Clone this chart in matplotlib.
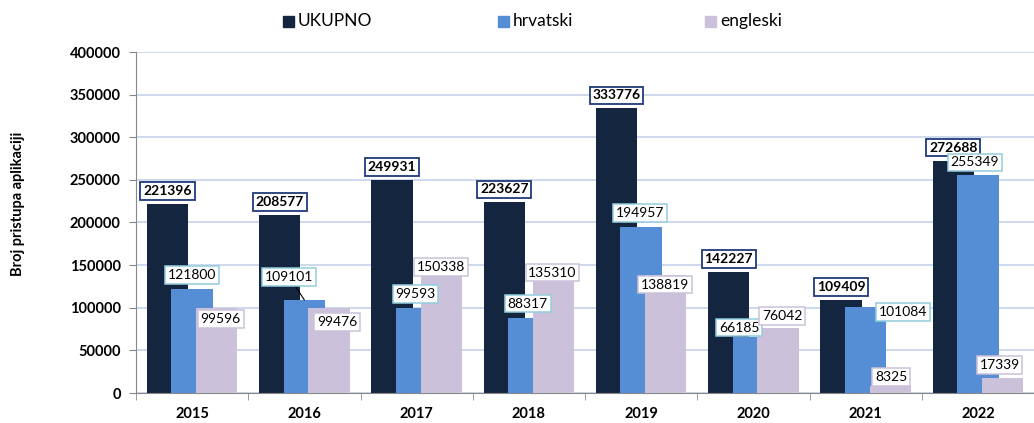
import matplotlib.pyplot as plt
from matplotlib.patches import Rectangle
import numpy as np

plt.rcParams['font.family'] = ['Lato', 'DejaVu Sans']

years = ['2015', '2016', '2017', '2018', '2019', '2020', '2021', '2022']
ukupno = [221396, 208577, 249931, 223627, 333776, 142227, 109409, 272688]
hrvatski = [121800, 109101, 99593, 88317, 194957, 66185, 101084, 255349]
engleski = [99596, 99476, 150338, 135310, 138819, 76042, 8325, 17339]
series_names = ['UKUPNO', 'hrvatski', 'engleski']

# label offsets in pixels (dx, dy up) relative to top-centre of bar
uk_off = [(0, 13)] * 8
hr_off = [(0, 14), (-15, 23), (-1, 14), (-1, 14), (-1, 14), (-14, 9), (37, -5), (-3, 13)]
en_off = [(4, -11), (8, -14), (0, -2), (-1, 5), (-1, -10), (4, 12), (1, 9), (-3, 13)]

colors = ['#14263F', '#558ED5', '#CCC1DA']
edge_cols = ['#1F3A78', '#92CDDC', '#CCC1DA']

fig = plt.figure(figsize=(10.34, 4.23), dpi=100)
ax = fig.add_axes([136/1034, 30/423, 898/1034, 341/423])

x = np.arange(len(years))
step = 25/114
width = 42/114
data = [ukupno, hrvatski, engleski]
offs = [uk_off, hr_off, en_off]

for k in range(3):
    xs = x + (k - 1) * step
    ax.bar(xs, data[k], width=width, color=colors[k], zorder=2 + k)

for k in range(3):
    xs = x + (k - 1) * step
    for i, v in enumerate(data[k]):
        dx, dy = offs[k][i]
        arrow = None
        if k == 1 and i == 1:
            arrow = dict(arrowstyle='-', color='black', lw=0.8, shrinkA=0, shrinkB=0)
        ax.annotate(str(v), xy=(xs[i], v), xytext=(dx, dy), textcoords='offset pixels',
                    ha='center', va='center', fontsize=10,
                    fontweight='bold' if k == 0 else 'normal', color='black',
                    bbox=dict(boxstyle='square,pad=0.2', fc='white', ec=edge_cols[k],
                              lw=1.3 if k == 0 else 1.1),
                    arrowprops=arrow, zorder=10 + k)

ax.set_ylim(0, 400000)
ax.set_xlim(-0.5, -0.5 + 898/114)
ax.set_yticks(np.arange(0, 400001, 50000))
ax.set_yticklabels([str(t) for t in range(0, 400001, 50000)], fontweight='bold', fontsize=10.5)
ax.yaxis.grid(True, color='#C9D6EC', lw=1.3)
ax.set_axisbelow(True)
ax.set_xticks(x)
ax.set_xticklabels(years, fontweight='bold', fontsize=10.5)
ax.set_xticks(np.arange(-0.5, 8, 1), minor=True)
ax.tick_params(axis='x', which='major', length=0, pad=10)
ax.tick_params(axis='x', which='minor', length=5, color='#888888')
ax.tick_params(axis='y', length=5, color='#888888', pad=6)
for s in ['top', 'right']:
    ax.spines[s].set_visible(False)
ax.spines['left'].set_color('#888888')
ax.spines['bottom'].set_color('#888888')

fig.text(18/1034, 1 - 204/423, 'Broj pristupa aplikaciji', rotation=90, ha='center', va='center',
         fontsize=10.5, fontweight='bold')

# legend
leg_x = [283, 498, 705]
for k in range(3):
    fig.patches.append(Rectangle((leg_x[k]/1034, 1 - 27/423), 11/1034, 11/423,
                                 transform=fig.transFigure, color=colors[k]))
    fig.text((leg_x[k] + 15)/1034, 1 - 21/423, series_names[k], ha='left', va='center',
             fontsize=12.5)

fig.savefig('out.png', dpi=100)
